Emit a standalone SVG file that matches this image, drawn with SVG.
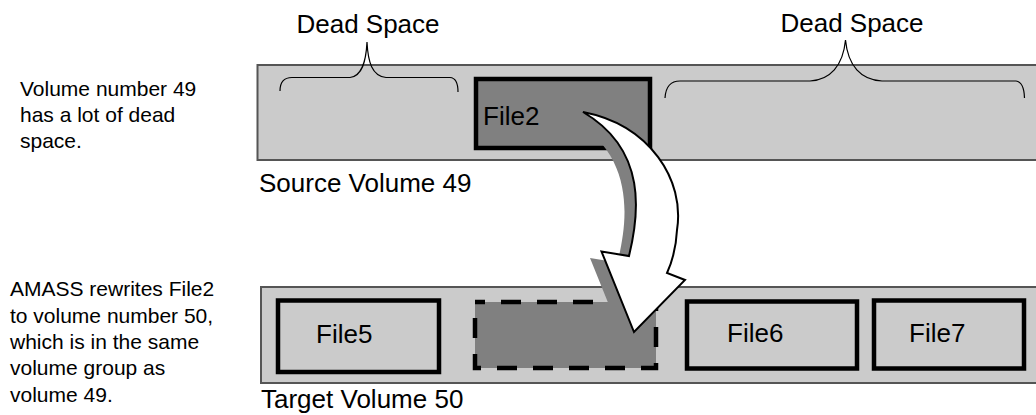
<svg xmlns="http://www.w3.org/2000/svg" width="1036" height="415" viewBox="0 0 1036 415">
<style>
.bar{fill:#cbcbcb;stroke:#555;stroke-width:2}
.file{fill:#cbcbcb;stroke:#000;stroke-width:4.5}
.moved{fill:#808080;stroke:#000;stroke-width:4.5}
.gap{fill:#808080;stroke:#000;stroke-width:4.5;stroke-dasharray:20 16;stroke-dashoffset:10}
.brace{fill:none;stroke:#000;stroke-width:1.2}
.lbl{font-family:"Liberation Sans",Arial,sans-serif;font-size:26px;fill:#000}
.note{font-family:"Liberation Sans",Arial,sans-serif;font-size:21px;fill:#000}
.arrow{fill:#fff;stroke:#000;stroke-width:2;stroke-linejoin:miter}
.shadow{fill:#808080;stroke:none}
</style>
<defs>
<path id="arrowShape" d="M583,112 C650,125 685,180 677,230 C676,250 672,262 667,273 L685,280 L634,332 L601.5,251.5 L629,256 C639,215 648,150 583,112 Z"/>
</defs>
<g id="note-top">
<text class="note" x="20" y="96">Volume number 49</text>
<text class="note" x="20" y="122">has a lot of dead</text>
<text class="note" x="20" y="148">space.</text>
</g>
<g id="note-bottom">
<text class="note" x="10" y="296">AMASS rewrites File2</text>
<text class="note" x="10" y="322.5">to volume number 50,</text>
<text class="note" x="10" y="349">which is in the same</text>
<text class="note" x="10" y="375">volume group as</text>
<text class="note" x="10" y="401.5">volume 49.</text>
</g>
<g id="source-volume">
<rect class="bar" x="257.5" y="65" width="790" height="95"/>
<text class="lbl" x="259" y="192">Source Volume 49</text>
</g>
<g id="dead-space-left">
<path class="brace" d="M280,91 Q280,77.5 292,77.5 L350,77.5 C362,76 366,62 367,42 C368,62 372,76 386,77.5 L450,77.5 Q458,78 458,92"/>
<text class="lbl" x="368" y="33" text-anchor="middle">Dead Space</text>
</g>
<g id="dead-space-right">
<path class="brace" d="M665,98 Q666,81 680,81 L810,81 C830,80 843,66 845.5,40 C848,66 861,80 882,81 L1016,81 Q1024,82 1024.5,98"/>
<text class="lbl" x="852" y="32" text-anchor="middle">Dead Space</text>
</g>
<g id="file2">
<rect class="moved" x="476" y="79" width="174" height="69"/>
<text class="lbl" x="483" y="125">File2</text>
</g>
<g id="target-volume">
<rect class="bar" x="261" y="287" width="790" height="96"/>
<text class="lbl" x="261" y="408">Target Volume 50</text>
</g>
<g id="file5">
<rect class="file" x="278" y="300.5" width="161" height="71.5"/>
<text class="lbl" x="316" y="343">File5</text>
</g>
<g id="file2-copy">
<rect class="gap" x="475" y="302" width="181" height="66"/>
</g>
<g id="file6">
<rect class="file" x="687" y="301.5" width="170" height="67"/>
<text class="lbl" x="727" y="342">File6</text>
</g>
<g id="file7">
<rect class="file" x="874" y="300.5" width="150" height="68"/>
<text class="lbl" x="909" y="342">File7</text>
</g>
<g id="connectors">
<use href="#arrowShape" class="shadow" transform="translate(-11.5,6.5)"/>
<use href="#arrowShape" class="arrow"/>
</g>
</svg>
